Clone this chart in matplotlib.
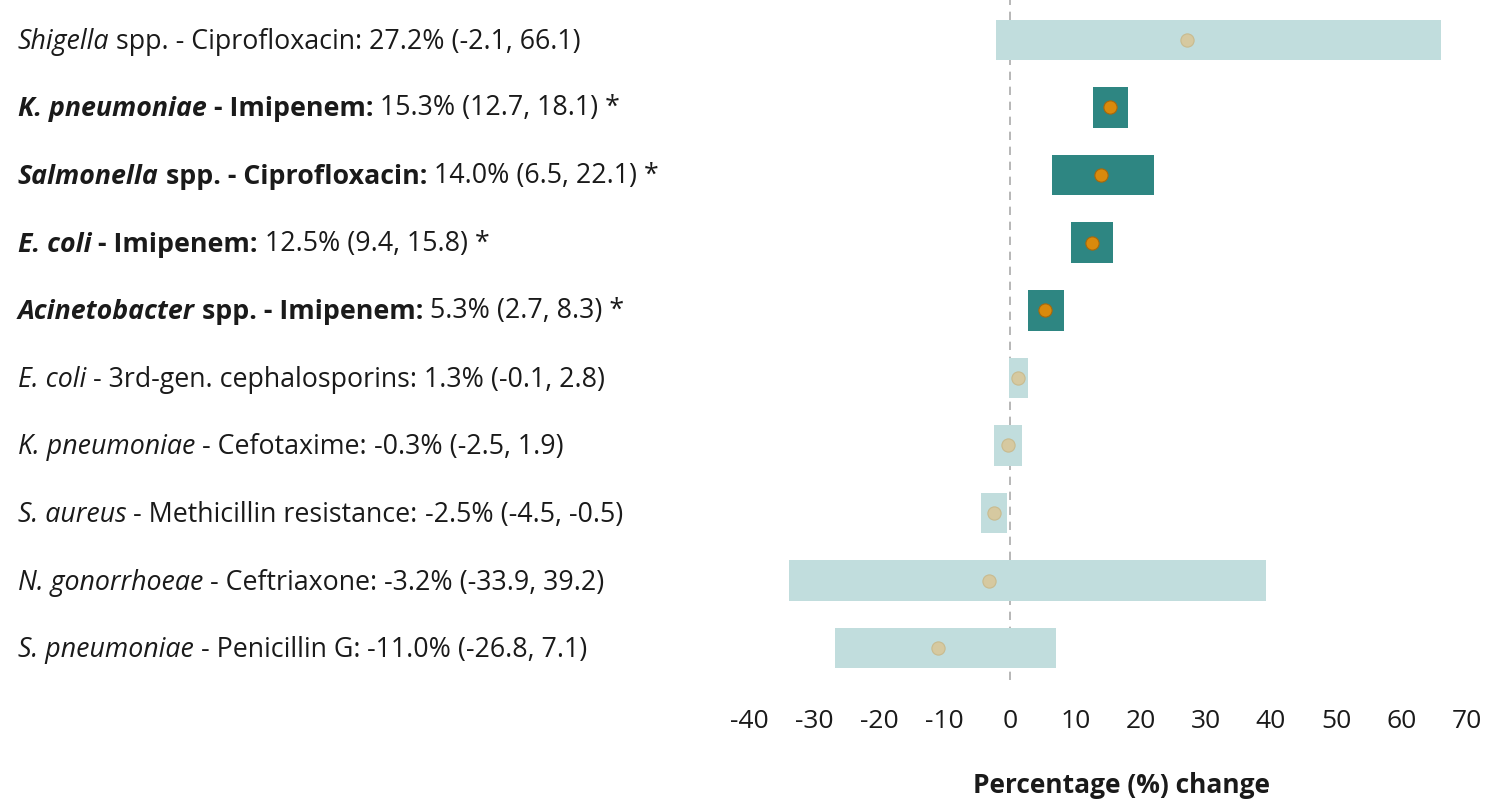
import matplotlib
matplotlib.use("Agg")
import matplotlib.pyplot as plt
import matplotlib.transforms as mtransforms

plt.rcParams["font.family"] = ["Open Sans", "DejaVu Sans"]
plt.rcParams["font.stretch"] = "normal"
plt.rcParams["axes.unicode_minus"] = False

# Pathogen–antibiotic combinations (top to bottom)
organisms = ["Shigella", "K. pneumoniae", "Salmonella", "E. coli", "Acinetobacter",
             "E. coli", "K. pneumoniae", "S. aureus", "N. gonorrhoeae", "S. pneumoniae"]
organism_suffix = [" spp.", "", " spp.", "", " spp.", "", "", "", "", ""]
antibiotics = ["Ciprofloxacin", "Imipenem", "Ciprofloxacin", "Imipenem", "Imipenem",
               "3rd-gen. cephalosporins", "Cefotaxime", "Methicillin resistance",
               "Ceftriaxone", "Penicillin G"]
estimate = [27.2, 15.3, 14.0, 12.5, 5.3, 1.3, -0.3, -2.5, -3.2, -11.0]
ci_lower = [-2.1, 12.7, 6.5, 9.4, 2.7, -0.1, -2.5, -4.5, -33.9, -26.8]
ci_upper = [66.1, 18.1, 22.1, 15.8, 8.3, 2.8, 1.9, -0.5, 39.2, 7.1]
significant = [False, True, True, True, True, False, False, False, False, False]
x_ticks = [-40, -30, -20, -10, 0, 10, 20, 30, 40, 50, 60, 70]

LIGHT_BAR = "#c1dddd"
DARK_BAR = "#2e8682"
SIG_DOT = "#d98a0c"
SIG_EDGE = "#a8680a"
NS_DOT = "#d6c9a0"
NS_EDGE = "#c9bb8e"
TEXT = "#1a1a1a"
LABEL_FS = 19.3
AXIS_FS = 19

fig = plt.figure(figsize=(14.86, 7.99), dpi=100)
ax = fig.add_axes([0.504, 0.149, 0.483, 0.851])

n = len(organisms)
rows = list(range(n))

for i in rows:
    lo, hi = ci_lower[i], ci_upper[i]
    ax.barh(i, hi - lo, left=lo, height=0.6,
            color=DARK_BAR if significant[i] else LIGHT_BAR, zorder=2)
    ax.plot(estimate[i], i, "o", ms=9.5,
            mfc=SIG_DOT if significant[i] else NS_DOT,
            mec=SIG_EDGE if significant[i] else NS_EDGE, mew=0.8, zorder=3)

ax.axvline(0, color="#aaaaaa", lw=1.2, ls=(0, (5, 4)), zorder=1)

ax.set_xlim(-40, 70)
ax.set_ylim(n - 0.53, -0.59)
ax.set_xticks(x_ticks)
ax.set_xticklabels([str(t) for t in x_ticks], fontsize=AXIS_FS, color=TEXT)
ax.tick_params(axis="x", length=0, pad=21)
ax.set_yticks([])
for s in ax.spines.values():
    s.set_visible(False)
ax.set_xlabel("Percentage (%) change", fontsize=AXIS_FS, fontweight="bold",
              fontstretch="normal", color=TEXT, labelpad=27)
ax.xaxis.label.set_x(0.519)

# Row labels built from differently styled pieces placed end to end
label_tf = mtransforms.blended_transform_factory(fig.transFigure, ax.transData)
for i in rows:
    w = "bold" if significant[i] else "normal"
    pieces = [
        (organisms[i], "italic", w),
        (organism_suffix[i] + " - " + antibiotics[i] + ":", "normal", w),
        (f" {estimate[i]:.1f}% ({ci_lower[i]:.1f}, {ci_upper[i]:.1f})"
         + (" *" if significant[i] else ""), "normal", "normal"),
    ]
    prev = ax.text(0.012, i + 0.03, pieces[0][0], transform=label_tf, va="center",
                   ha="left", fontsize=LABEL_FS, fontstyle=pieces[0][1],
                   fontweight=pieces[0][2], fontstretch="normal", color=TEXT)
    for txt, style, weight in pieces[1:]:
        prev = ax.annotate(txt, xy=(1, 0), xycoords=prev, va="bottom", ha="left",
                           fontsize=LABEL_FS, fontstyle=style, fontweight=weight,
                           fontstretch="normal", color=TEXT, annotation_clip=False)

fig.savefig("out.png", dpi=100, facecolor="white")
